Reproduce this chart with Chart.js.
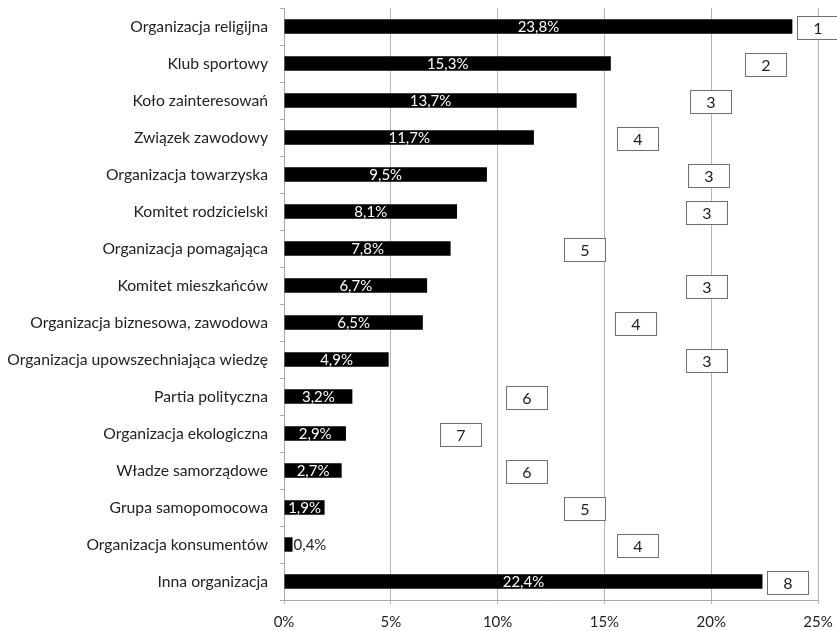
<!DOCTYPE html>
<html>
<head>
<meta charset="utf-8">
<script src="https://cdn.jsdelivr.net/npm/chart.js@4/dist/chart.umd.min.js"></script>
<style>
  body { margin:0; background:#fff; }
  #wrap { width:837px; height:631px; position:relative; }
</style>
</head>
<body>
<div id="wrap"><canvas id="myChart"></canvas></div>
<script>
var categories = ["Organizacja religijna", "Klub sportowy", "Koło zainteresowań", "Związek zawodowy",
  "Organizacja towarzyska", "Komitet rodzicielski", "Organizacja pomagająca", "Komitet mieszkańców",
  "Organizacja biznesowa, zawodowa", "Organizacja upowszechniająca wiedzę", "Partia polityczna",
  "Organizacja ekologiczna", "Władze samorządowe", "Grupa samopomocowa", "Organizacja konsumentów",
  "Inna organizacja"];
var values = [23.8, 15.3, 13.7, 11.7, 9.5, 8.1, 7.8, 6.7, 6.5, 4.9, 3.2, 2.9, 2.7, 1.9, 0.4, 22.4];
// rank shown in the boxes and where each box starts (in %)
var ranks = [1, 2, 3, 4, 3, 3, 5, 3, 4, 3, 6, 7, 6, 5, 4, 8];
var rankAt = [24.0, 21.6, 19.0, 15.6, 18.9, 18.8, 13.1, 18.8, 15.5, 18.8, 10.4, 7.3, 10.4, 13.1, 15.6, 22.6];
var xTicks = [0, 5, 10, 15, 20, 25];

var fontName = "Lato, 'Open Sans', sans-serif";

function fmt(v) { return v.toFixed(1).replace('.', ',') + '%'; }

var barLabels = {
  id: 'barLabels',
  afterDatasetsDraw: function(chart) {
    var ctx = chart.ctx;
    var meta = chart.getDatasetMeta(0);
    ctx.save();
    ctx.font = "15px " + fontName;
    ctx.textBaseline = 'middle';
    meta.data.forEach(function(bar, i) {
      var txt = fmt(values[i]);
      var w = ctx.measureText(txt).width;
      if (bar.x - bar.base > w + 2) {
        ctx.fillStyle = '#fff';
        ctx.textAlign = 'center';
        ctx.fillText(txt, (bar.x + bar.base) / 2, bar.y + 1);
      } else {
        ctx.fillStyle = '#222';
        ctx.textAlign = 'left';
        ctx.fillText(txt, bar.x + 1, bar.y + 1);
      }
    });
    ctx.restore();
  }
};

var rankBoxes = {
  id: 'rankBoxes',
  afterDatasetsDraw: function(chart) {
    var ctx = chart.ctx;
    var xs = chart.scales.x, ys = chart.scales.y;
    ctx.save();
    ctx.font = "16px " + fontName;
    ctx.textAlign = 'center';
    ctx.textBaseline = 'middle';
    for (var i = 0; i < ranks.length; i++) {
      var left = Math.round(xs.getPixelForValue(rankAt[i])) + 0.5;
      var top = Math.round(ys.getPixelForValue(i) - 11) + 0.5;
      ctx.fillStyle = '#fff';
      ctx.fillRect(left, top, 41, 23);
      ctx.strokeStyle = '#707070';
      ctx.lineWidth = 1;
      ctx.strokeRect(left, top, 41, 23);
      ctx.fillStyle = '#222';
      ctx.fillText(String(ranks[i]), left + 20.5, top + 12);
    }
    ctx.restore();
  }
};

var ctx = document.getElementById('myChart');
var myChart = new Chart(ctx, {
  type: 'bar',
  data: {
    labels: categories,
    datasets: [{
      data: values,
      backgroundColor: '#000',
      borderWidth: 0,
      barPercentage: 0.39,
      categoryPercentage: 1
    }]
  },
  options: {
    indexAxis: 'y',
    responsive: true,
    maintainAspectRatio: false,
    animation: false,
    layout: { padding: { top: 8, right: 19, left: 0, bottom: 0 } },
    plugins: {
      legend: { display: false },
      tooltip: { enabled: false }
    },
    scales: {
      x: {
        min: 0,
        max: 25,
        afterBuildTicks: function(scale) {
          scale.ticks = xTicks.map(function(v) { return { value: v }; });
        },
        afterFit: function(scale) {
          scale.height = 31;
          scale.paddingLeft = 0;
          scale.paddingRight = 0;
        },
        grid: { color: '#b5b5b5', tickLength: 4, drawTicks: true },
        border: { color: '#a8a8a8' },
        ticks: {
          padding: 9,
          color: '#222',
          font: { family: fontName, size: 15 },
          callback: function(v) { return v + '%'; }
        }
      },
      y: {
        afterFit: function(scale) {
          scale.width = 284;
          scale.paddingTop = 0;
          scale.paddingBottom = 0;
        },
        grid: { drawOnChartArea: false, color: '#a8a8a8', tickLength: 4 },
        border: { color: '#a8a8a8' },
        ticks: {
          padding: 12,
          color: '#222',
          autoSkip: false,
          font: { family: fontName, size: 15.7 }
        }
      }
    }
  },
  plugins: [barLabels, rankBoxes]
});
</script>
</body>
</html>
